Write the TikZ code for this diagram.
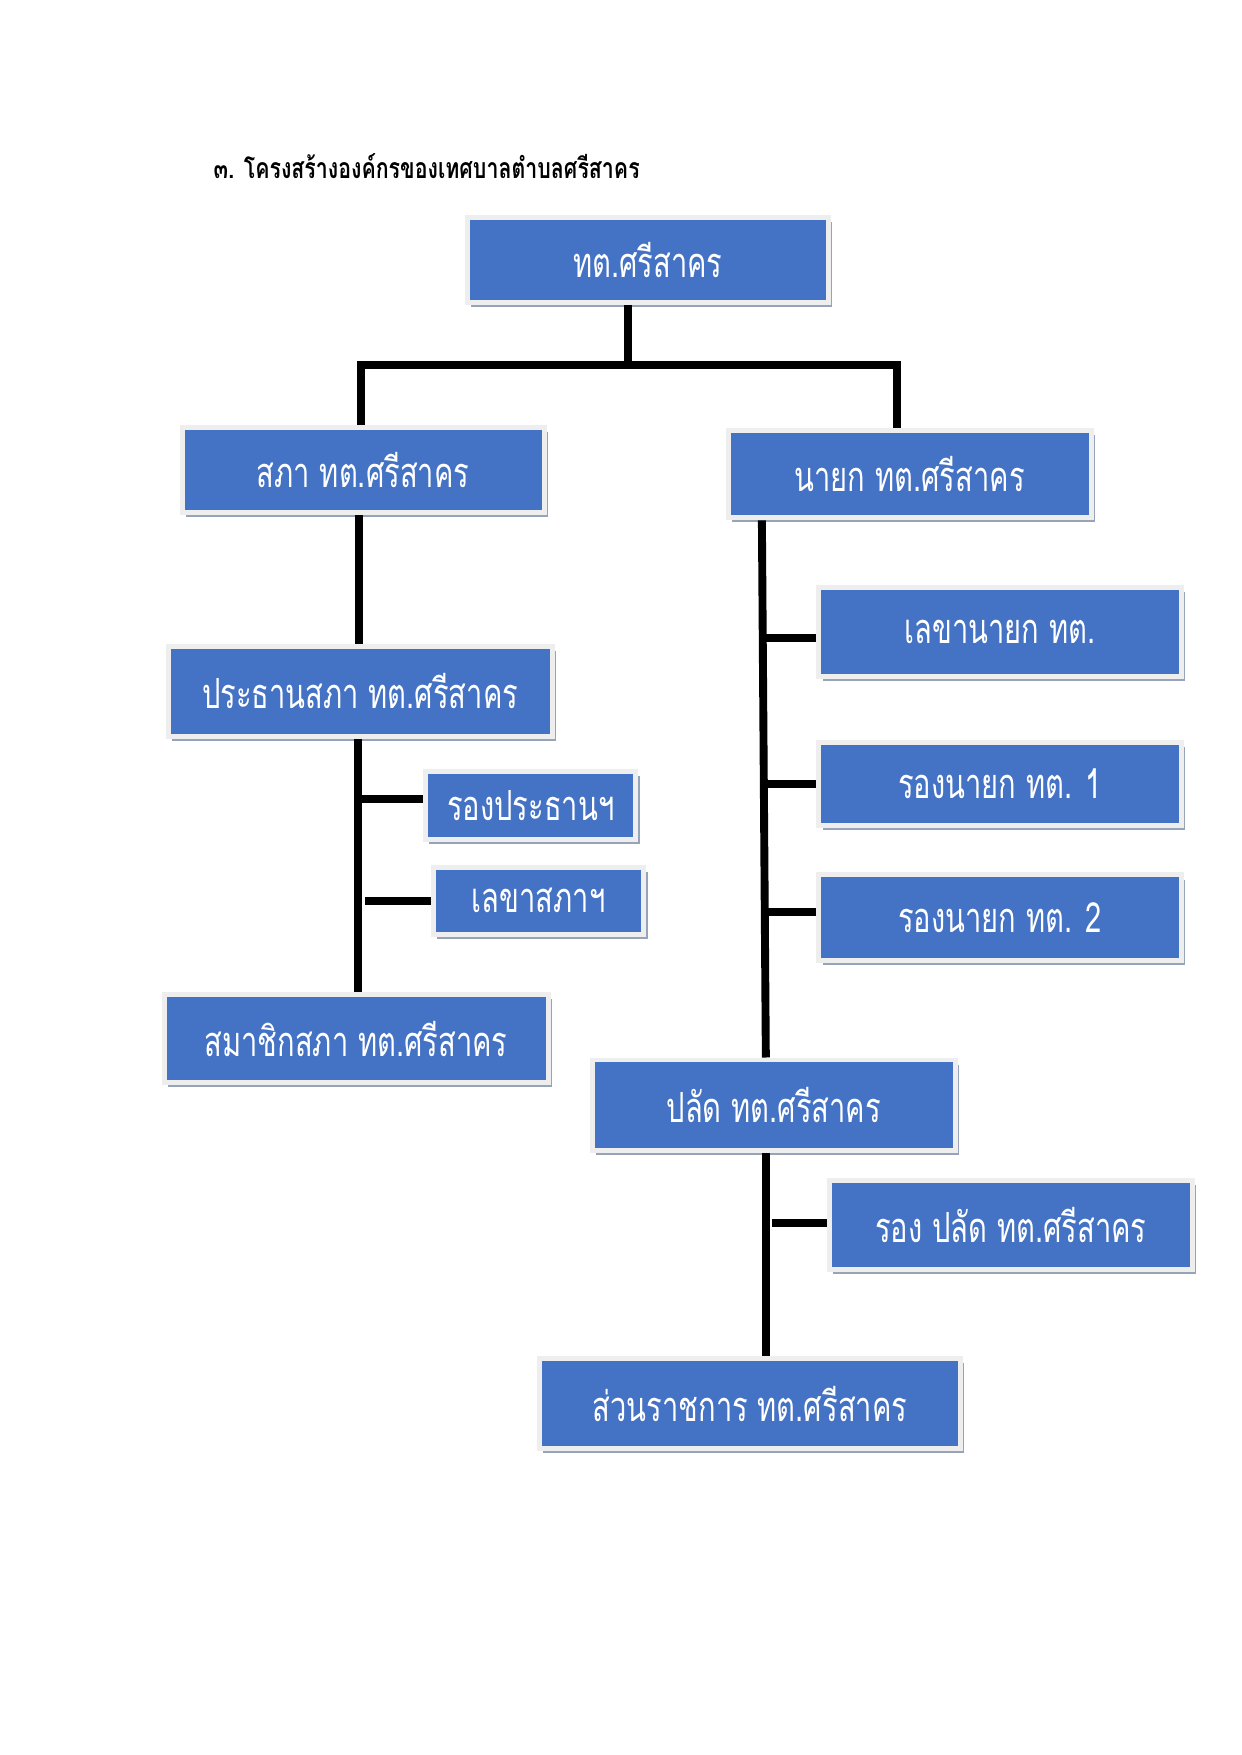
\documentclass[tikz,border=0pt]{standalone}
\usepackage{fontspec}
\usetikzlibrary{shadows}
\newfontfamily\thaibox[Script=Thai,FakeStretch=0.7]{Loma}
\newfontfamily\thaititle[Script=Thai,FakeStretch=0.75]{Loma}
\definecolor{boxblue}{HTML}{4472C4}
\definecolor{framegray}{HTML}{EEEEEE}
\definecolor{shadegray}{HTML}{97A3B8}
\newdimen\pxu
\pxu=0.016787cm
\begin{document}
\begin{tikzpicture}[x=0.016787cm, y=-0.016787cm,
  unitbox/.style={fill=boxblue, draw=framegray, line width=2.4pt, text=white,
    font=\thaibox\fontsize{20}{24}\selectfont, inner sep=0pt,
    drop shadow={shadow xshift=1.8pt, shadow yshift=-2.2pt, fill=shadegray, opacity=1}},
  link/.style={line width=3.8pt, black}]
\useasboundingbox (0,0) rectangle (1251,1769.1);
\node[anchor=west, font=\thaititle\bfseries\fontsize{13.7}{16}\selectfont] (title) at (208,167) {๓. โครงสร้างองค์กรของเทศบาลตำบลศรีสาคร};
% top level
\node[unitbox, minimum width=364\pxu, minimum height=85\pxu] (top) at (653,262) {ทต.ศรีสาคร};
\node[unitbox, minimum width=365\pxu, minimum height=86\pxu] (sapa) at (366,474) {สภา ทต.ศรีสาคร};
\node[unitbox, minimum width=366\pxu, minimum height=88\pxu] (nayok) at (917,478) {นายก ทต.ศรีสาคร};
% council side
\node[unitbox, minimum width=387\pxu, minimum height=90\pxu] (prathan) at (363,697) {ประธานสภา ทต.ศรีสาคร};
\node[unitbox, minimum width=212\pxu, minimum height=69\pxu] (rongprathan) at (535,812) {รองประธานฯ};
\node[unitbox, minimum width=212\pxu, minimum height=68\pxu] (lekhasapa) at (543,908) {เลขาสภาฯ};
\node[unitbox, minimum width=387\pxu, minimum height=89\pxu] (samachik) at (359,1047) {สมาชิกสภา ทต.ศรีสาคร};
% mayor side
\node[unitbox, minimum width=365\pxu, minimum height=90\pxu] (lekhanayok) at (1008,637) {เลขานายก ทต.};
\node[unitbox, minimum width=365\pxu, minimum height=84\pxu] (rongnayok1) at (1008,790) {รองนายก ทต. 1};
\node[unitbox, minimum width=365\pxu, minimum height=86\pxu] (rongnayok2) at (1008,925) {รองนายก ทต. 2};
\node[unitbox, minimum width=366\pxu, minimum height=91\pxu] (palat) at (780,1114) {ปลัด ทต.ศรีสาคร};
\node[unitbox, minimum width=366\pxu, minimum height=90\pxu] (rongpalat) at (1019,1235) {รอง ปลัด ทต.ศรีสาคร};
\node[unitbox, minimum width=424\pxu, minimum height=91\pxu] (suan) at (756,1415) {ส่วนราชการ ทต.ศรีสาคร};
% junctions
\coordinate (tj) at (633,368);
\coordinate (hl) at (364,368);
\coordinate (hr) at (904,368);
\coordinate (sj) at (362,0);
\coordinate (pj) at (361,0);
\coordinate (bj1) at (361,805);
\coordinate (bj2) at (368,908);
\coordinate (rv) at (768,0);
\coordinate (rvb) at (772,0);
\coordinate (nj1) at (768,643);
\coordinate (nj2) at (768,790);
\coordinate (nj3) at (768,919);
\coordinate (lj) at (778,1233);
% connectors
\draw[link] (top.south -| tj) -- (tj);
\draw[link] (sapa.north -| hl) -- (hl) -- (hr) -- (nayok.north -| hr);
\draw[link] (sapa.south -| sj) -- (prathan.north -| sj);
\draw[link] (prathan.south -| pj) -- (samachik.north -| pj);
\draw[link] (bj1) -- (rongprathan.west |- bj1);
\draw[link] (bj2) -- (lekhasapa.west |- bj2);
\draw[link] (nayok.south -| rv) -- (palat.north -| rvb);
\draw[link] (nj1) -- (lekhanayok.west |- nj1);
\draw[link] (nj2) -- (rongnayok1.west |- nj2);
\draw[link] (nj3) -- (rongnayok2.west |- nj3);
\draw[link] (palat.south -| rvb) -- (suan.north -| rvb);
\draw[link] (lj) -- (rongpalat.west |- lj);
\end{tikzpicture}
\end{document}
